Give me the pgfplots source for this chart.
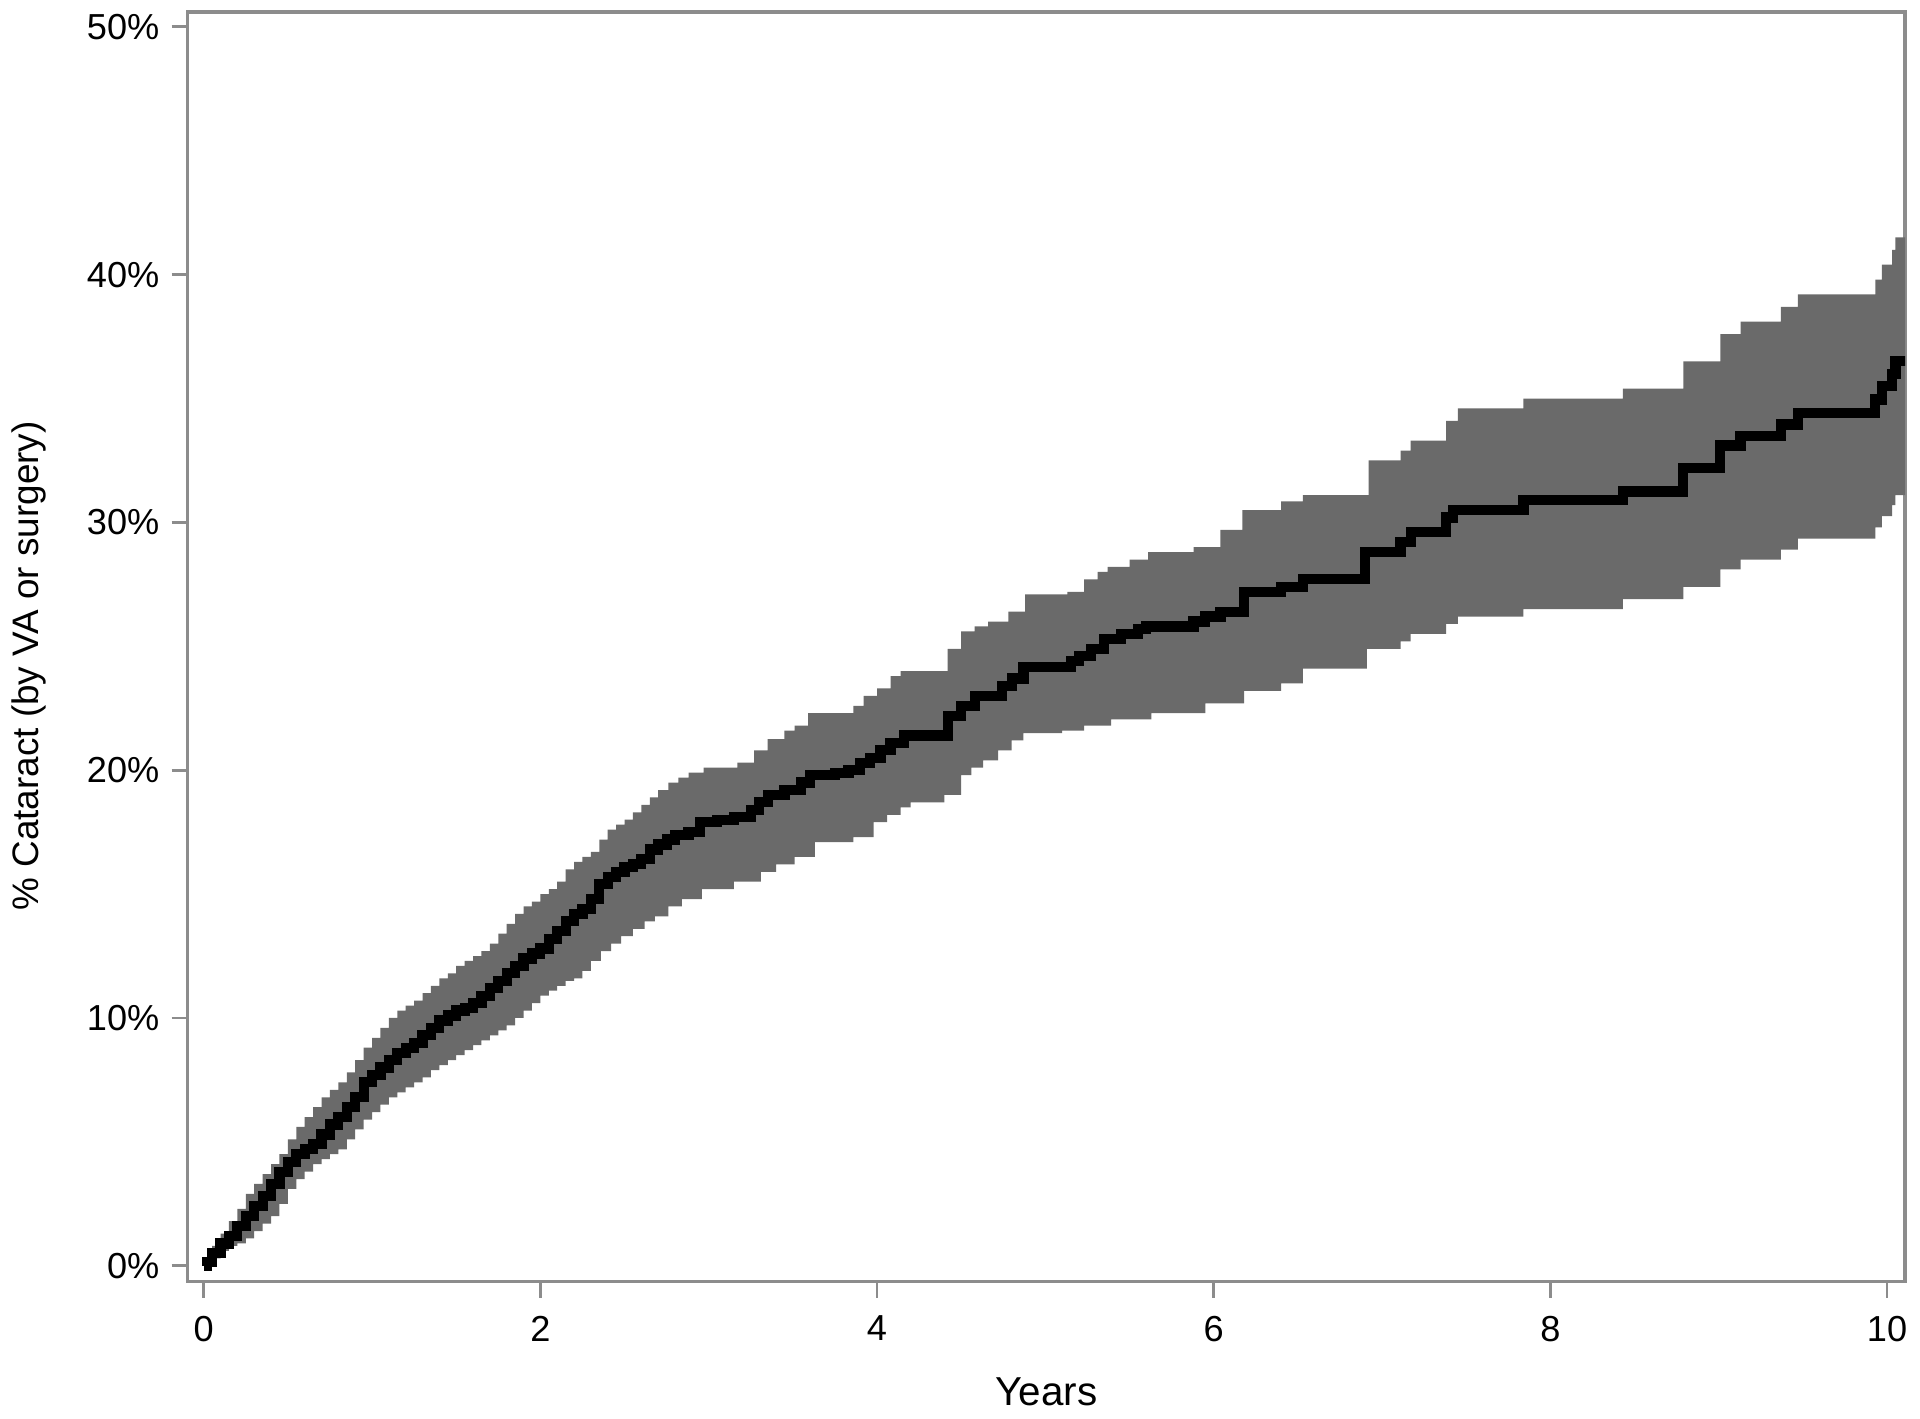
\documentclass[border=0pt]{standalone}
\usepackage{fontspec}
\setmainfont{Liberation Sans}
\usepackage{pgfplots}
\usepackage{pgfplotstable}
\pgfplotsset{compat=1.18}
\usepgfplotslibrary{fillbetween}

\definecolor{axisgray}{RGB}{140,140,140}
\definecolor{bandgray}{RGB}{106,106,106}

% cumulative incidence (years, %)
\pgfplotstableread{
x y
0.00 0.0
0.02 0.15
0.05 0.5
0.10 0.9
0.15 1.2
0.20 1.6
0.25 2.0
0.30 2.4
0.35 2.8
0.40 3.3
0.45 3.8
0.50 4.2
0.55 4.5
0.60 4.7
0.65 4.9
0.70 5.3
0.75 5.7
0.80 6.0
0.85 6.4
0.90 6.8
0.95 7.4
1.00 7.7
1.05 8.0
1.10 8.3
1.15 8.6
1.20 8.8
1.25 9.0
1.30 9.3
1.35 9.6
1.40 9.9
1.45 10.1
1.50 10.3
1.55 10.4
1.60 10.6
1.65 10.9
1.70 11.2
1.75 11.5
1.80 11.8
1.85 12.1
1.90 12.4
1.95 12.6
2.00 12.8
2.05 13.2
2.10 13.5
2.15 13.9
2.20 14.2
2.25 14.4
2.30 14.8
2.35 15.4
2.40 15.7
2.45 15.9
2.50 16.1
2.55 16.2
2.60 16.4
2.65 16.8
2.70 17.0
2.75 17.2
2.80 17.4
2.88 17.5
2.95 17.9
3.05 18.0
3.15 18.1
3.25 18.4
3.30 18.7
3.35 19.0
3.45 19.2
3.55 19.5
3.60 19.8
3.75 19.9
3.83 20.0
3.90 20.3
3.96 20.5
4.02 20.8
4.08 21.1
4.16 21.4
4.42 22.2
4.50 22.6
4.58 23.0
4.74 23.4
4.80 23.7
4.87 24.15
5.15 24.4
5.20 24.6
5.27 24.9
5.35 25.3
5.45 25.5
5.55 25.7
5.60 25.8
5.88 26.0
5.95 26.2
6.04 26.4
6.18 27.2
6.40 27.4
6.53 27.7
6.90 28.8
7.11 29.2
7.17 29.6
7.38 30.2
7.42 30.5
7.84 30.9
8.43 31.25
8.79 32.2
9.01 33.1
9.13 33.5
9.37 33.95
9.47 34.4
9.93 34.96
9.97 35.5
10.03 36.0
10.05 36.5
10.11 36.5
}\tabest

% upper confidence limit
\pgfplotstableread{
x y
0.00 0.3
0.05 0.8
0.10 1.3
0.15 1.8
0.20 2.3
0.25 2.9
0.30 3.3
0.35 3.7
0.40 4.1
0.45 4.5
0.50 5.1
0.55 5.6
0.60 6.0
0.65 6.4
0.70 6.8
0.75 7.1
0.80 7.4
0.85 7.8
0.90 8.3
0.95 8.8
1.00 9.2
1.05 9.6
1.10 10.0
1.15 10.3
1.20 10.5
1.25 10.7
1.30 11.0
1.35 11.3
1.40 11.6
1.45 11.8
1.50 12.1
1.55 12.3
1.60 12.5
1.65 12.7
1.70 13.0
1.75 13.4
1.80 13.8
1.85 14.2
1.90 14.5
1.95 14.7
2.00 15.0
2.05 15.2
2.10 15.5
2.15 16.0
2.20 16.3
2.25 16.5
2.30 16.7
2.35 17.2
2.40 17.6
2.45 17.8
2.50 18.0
2.55 18.3
2.60 18.6
2.65 18.9
2.70 19.2
2.76 19.5
2.82 19.7
2.88 19.9
2.97 20.1
3.17 20.3
3.27 20.8
3.35 21.25
3.45 21.6
3.51 21.8
3.59 22.3
3.86 22.6
3.92 23.0
4.00 23.3
4.08 23.8
4.14 24.0
4.42 24.9
4.50 25.6
4.58 25.8
4.66 26.0
4.78 26.4
4.88 27.1
5.13 27.2
5.23 27.7
5.31 28.0
5.37 28.2
5.50 28.5
5.61 28.8
5.88 29.0
6.04 29.7
6.17 30.5
6.40 30.85
6.53 31.1
6.92 32.5
7.11 32.9
7.17 33.3
7.38 34.1
7.45 34.6
7.84 35.0
8.43 35.4
8.79 36.5
9.01 37.6
9.13 38.1
9.37 38.7
9.47 39.2
9.93 39.8
9.97 40.4
10.03 41.0
10.05 41.5
10.11 41.5
}\tabupper

% lower confidence limit
\pgfplotstableread{
x y
0.00 0.0
0.05 0.3
0.10 0.6
0.15 0.8
0.20 0.9
0.25 1.1
0.30 1.4
0.35 1.7
0.40 2.0
0.45 2.5
0.50 3.1
0.55 3.5
0.60 3.8
0.65 4.1
0.70 4.3
0.75 4.5
0.80 4.7
0.85 5.1
0.90 5.5
0.95 5.9
1.00 6.2
1.05 6.5
1.10 6.8
1.15 7.0
1.20 7.2
1.25 7.4
1.30 7.6
1.35 7.9
1.40 8.1
1.45 8.3
1.50 8.5
1.55 8.7
1.60 8.9
1.65 9.1
1.70 9.3
1.75 9.5
1.80 9.7
1.85 10.0
1.90 10.3
1.95 10.6
2.00 10.9
2.05 11.1
2.10 11.3
2.15 11.5
2.20 11.6
2.25 11.9
2.30 12.3
2.36 12.7
2.42 13.0
2.48 13.3
2.55 13.6
2.62 13.9
2.68 14.1
2.76 14.5
2.84 14.8
2.96 15.2
3.15 15.5
3.31 15.9
3.40 16.2
3.51 16.5
3.63 17.1
3.86 17.3
3.98 17.9
4.06 18.2
4.14 18.5
4.20 18.7
4.40 19.0
4.50 19.8
4.56 20.1
4.63 20.4
4.72 20.8
4.80 21.2
4.87 21.5
5.10 21.6
5.23 21.8
5.39 22.05
5.63 22.3
5.95 22.7
6.18 23.2
6.40 23.5
6.53 24.1
6.91 24.9
7.11 25.2
7.17 25.5
7.38 25.9
7.45 26.2
7.84 26.5
8.43 26.9
8.79 27.4
9.01 28.1
9.13 28.5
9.37 28.9
9.47 29.35
9.93 29.8
9.97 30.25
10.03 30.7
10.05 31.1
10.11 31.1
}\tablower

\begin{document}
\begin{tikzpicture}
\begin{axis}[
    anchor=south west, at={(0,0)},
    scale only axis,
    width=171.9mm, height=127.1mm,
    xmin=-0.095, xmax=10.107,
    ymin=-0.645, ymax=50.6,
    xtick={0,2,4,6,8,10},
    ytick={0,10,20,30,40,50},
    yticklabel={\pgfmathprintnumber{\tick}\%},
    xtick pos=bottom, ytick pos=left,
    tick align=outside,
    major tick length=1.6mm,
    tick style={color=axisgray, line width=0.8pt},
    axis line style={color=axisgray, line width=0.9pt},
    /pgf/number format/assume math mode=true,
    tick label style={font=\fontsize{10.3}{12}\selectfont, text=black},
    xticklabel style={yshift=-0.6mm},
    yticklabel style={xshift=0mm},
    xlabel={Years},
    ylabel={\% Cataract (by VA or surgery)},
    xlabel style={font=\fontsize{11.5}{13}\selectfont, at={(axis description cs:0.5,0)}, anchor=center, yshift=-11mm},
    ylabel style={font=\fontsize{10.5}{12}\selectfont, at={(axis description cs:0,0.485)}, anchor=center, yshift=15.9mm},
]
\addplot[name path=up, draw=none, const plot, forget plot] table[x=x, y=y] {\tabupper};
\addplot[name path=lo, draw=none, const plot, forget plot] table[x=x, y=y] {\tablower};
\addplot[fill=bandgray, draw=none] fill between[of=up and lo];
\addplot[black, line width=2.9pt, const plot, no marks] table[x=x, y=y] {\tabest};
\end{axis}
\path[use as bounding box] (-18.6mm,-13.7mm) rectangle (173.4mm,128.3mm);
\end{tikzpicture}
\end{document}
